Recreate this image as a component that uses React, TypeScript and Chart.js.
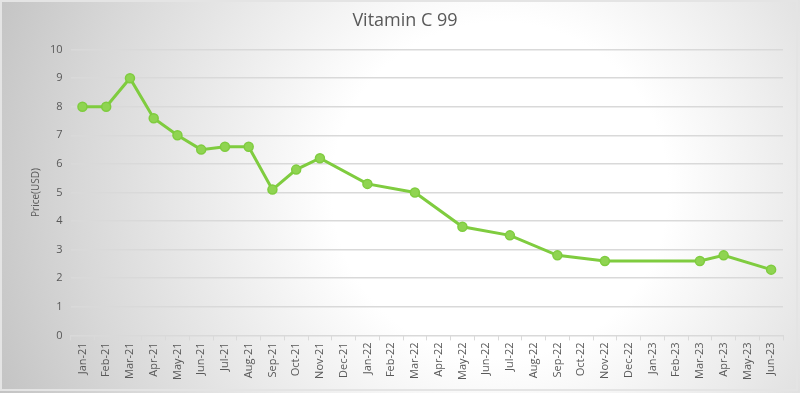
import React, { useEffect, useRef } from "react";
import { Chart, registerables } from "chart.js";

Chart.register(...registerables);

const categories = [
  "Jan-21", "Feb-21", "Mar-21", "Apr-21", "May-21", "Jun-21", "Jul-21", "Aug-21", "Sep-21", "Oct-21", "Nov-21", "Dec-21",
  "Jan-22", "Feb-22", "Mar-22", "Apr-22", "May-22", "Jun-22", "Jul-22", "Aug-22", "Sep-22", "Oct-22", "Nov-22", "Dec-22",
  "Jan-23", "Feb-23", "Mar-23", "Apr-23", "May-23", "Jun-23",
];

const prices: (number | null)[] = [
  8.0, 8.0, 9.0, 7.6, 7.0, 6.5, 6.6, 6.6, 5.1, 5.8, 6.2, null,
  5.3, null, 5.0, null, 3.8, null, 3.5, null, 2.8, null, 2.6, null,
  null, null, 2.6, 2.8, null, 2.3,
];

const titleText = "Vitamin C 99";
const yAxisTitle = "Price(USD)";

const bgPlugin = {
  id: "bgGradient",
  beforeDraw(chart: any) {
    const { ctx, width, height } = chart;
    ctx.save();
    const g = ctx.createRadialGradient(500, 190, 0, 500, 190, 560);
    g.addColorStop(0, "#ffffff");
    g.addColorStop(0.3, "#ffffff");
    g.addColorStop(0.75, "#d8d8d8");
    g.addColorStop(1, "#c0c0c0");
    ctx.fillStyle = g;
    ctx.fillRect(0, 0, width, height);
    ctx.strokeStyle = "#e4e4e4";
    ctx.lineWidth = 2;
    ctx.strokeRect(1, 1, width - 4, height - 4);
    ctx.restore();
  },
};

export default function App() {
  const ref = useRef<HTMLCanvasElement>(null);
  useEffect(() => {
    document.body.style.margin = "0";
    const chart = new Chart(ref.current!, {
      type: "line",
      data: {
        labels: categories,
        datasets: [
          {
            data: prices,
            borderColor: "#7fcc3f",
            backgroundColor: "#8fd451",
            pointBackgroundColor: "#8fd451",
            pointBorderColor: "#7fcc3f",
            borderWidth: 3,
            pointRadius: 4.5,
            pointBorderWidth: 1.5,
            spanGaps: true,
            tension: 0,
          },
        ],
      },
      options: {
        animation: false,
        responsive: false,
        layout: { padding: { left: 27, right: 17, top: 10, bottom: 11 } },
        plugins: {
          legend: { display: false },
          tooltip: { enabled: false },
          title: {
            display: true,
            text: titleText,
            color: "#595959",
            font: { family: "Open Sans", size: 18, weight: "normal" },
            padding: { top: 0, bottom: 18 },
          },
        },
        scales: {
          x: {
            offset: true,
            grid: {
              display: true,
              offset: true,
              drawOnChartArea: false,
              drawTicks: true,
              tickLength: 5,
              color: "#d9d9d9",
            },
            border: { display: true, color: "#d9d9d9" },
            ticks: {
              autoSkip: false,
              minRotation: 90,
              maxRotation: 90,
              color: "#595959",
              font: { family: "Open Sans", size: 11 },
              padding: 2,
            },
          },
          y: {
            min: 0,
            max: 10,
            ticks: {
              stepSize: 1,
              color: "#595959",
              font: { family: "Open Sans", size: 11 },
              padding: 8,
            },
            grid: { color: "#d9d9d9", drawTicks: false, lineWidth: 1.5 },
            border: { display: false },
            title: {
              display: true,
              text: yAxisTitle,
              color: "#595959",
              font: { family: "Open Sans", size: 10 },
              padding: { top: 3, bottom: 0 },
            },
          },
        },
      },
      plugins: [bgPlugin],
    });
    return () => chart.destroy();
  }, []);
  return <canvas ref={ref} width={800} height={393} style={{ display: "block" }} />;
}
